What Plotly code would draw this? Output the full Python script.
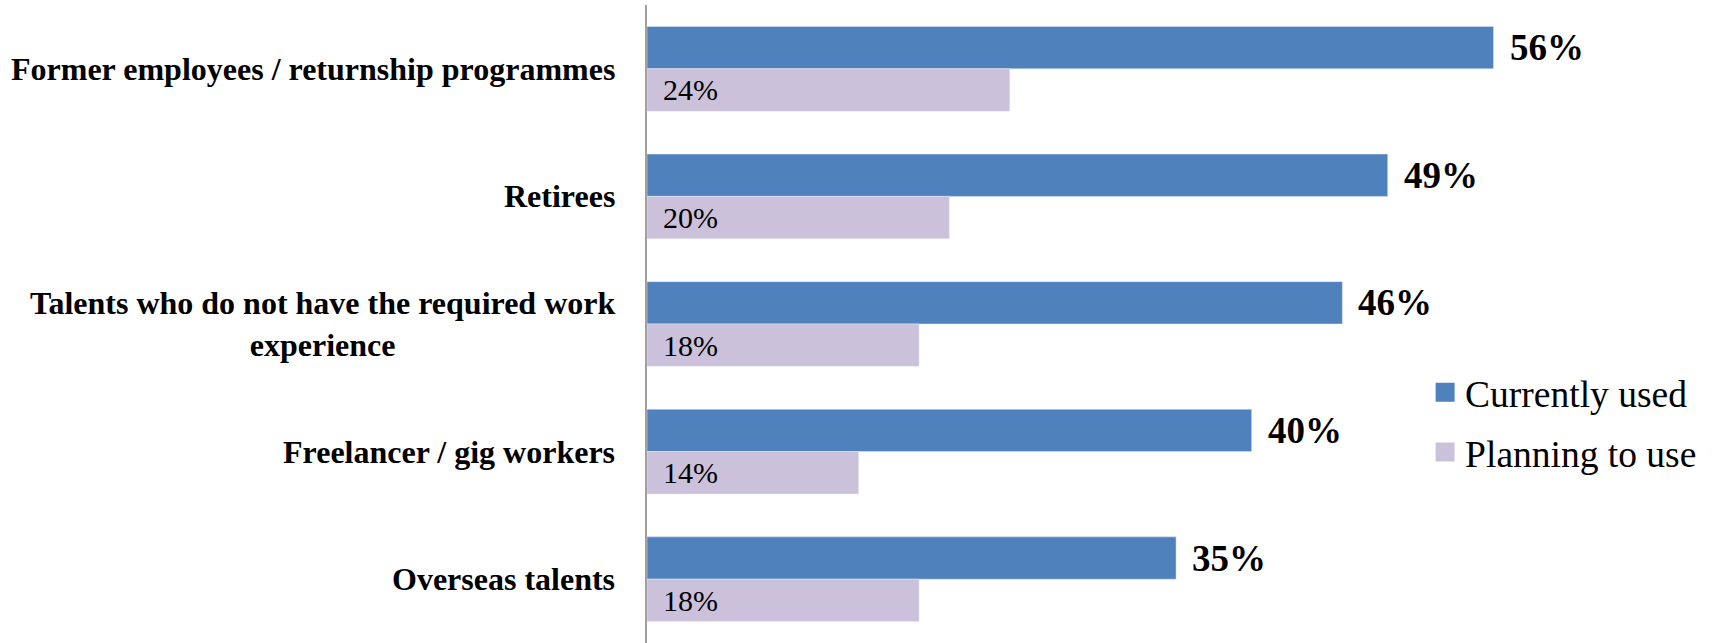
import plotly.graph_objects as go

# Survey results: talent pools currently used vs. planned
categories = [
    "Former employees / returnship programmes",
    "Retirees",
    "Talents who do not have the required work<br>experience",
    "Freelancer / gig workers",
    "Overseas talents",
]
currently_used = [56, 49, 46, 40, 35]
planning_to_use = [24, 20, 18, 14, 18]
series_names = ["Currently used", "Planning to use"]

BLUE = "#4F81BD"
LILAC = "#CCC1DA"
SERIF = "Liberation Serif, Times New Roman, serif"
BARGAP = 0.336

fig = go.Figure()
for name, values, color, grp in zip(series_names, [currently_used, planning_to_use],
                                    [BLUE, LILAC], ["a", "b"]):
    fig.add_trace(go.Bar(
        name=name, y=categories, x=values, orientation="h",
        marker=dict(color=color), legendgroup=grp, showlegend=False,
    ))
    # legend entry with a larger square swatch
    fig.add_trace(go.Scatter(
        name=name, x=[None], y=[None], mode="markers", legendgroup=grp,
        marker=dict(symbol="square", size=16, color=color,
                    line=dict(color=color, width=3)),
        hoverinfo="skip",
    ))

# half of one bar's thickness, in category units
half = (1 - BARGAP) / 4

annotations = []
for i, (cat, cu, pu) in enumerate(zip(categories, currently_used, planning_to_use)):
    # category label, centred block to the left of the axis
    annotations.append(dict(
        x=0, xref="paper", y=i, yref="y", text=f"<b>{cat}</b>",
        xanchor="right", yanchor="middle", align="center", xshift=-30,
        showarrow=False, font=dict(family=SERIF, size=32, color="black"),
    ))
    # value of the "currently used" bar, just past its end
    annotations.append(dict(
        x=cu, xref="x", y=i - half, yref="y", text=f"<b>{cu}%</b>",
        xanchor="left", yanchor="middle", xshift=14,
        showarrow=False, font=dict(family=SERIF, size=37, color="black"),
    ))
    # value of the "planning to use" bar, inside at its start
    annotations.append(dict(
        x=0, xref="x", y=i + half, yref="y", text=f"{pu}%",
        xanchor="left", yanchor="middle", xshift=14,
        showarrow=False, font=dict(family=SERIF, size=30, color="black"),
    ))

fig.update_layout(
    width=1717, height=643,
    margin=dict(l=647, r=163, t=5, b=0, autoexpand=False),
    paper_bgcolor="white", plot_bgcolor="white",
    barmode="group", bargap=BARGAP, bargroupgap=0,
    annotations=annotations,
    legend=dict(
        xref="container", yref="container", x=0.830, y=0.343,
        xanchor="left", yanchor="middle",
        font=dict(family=SERIF, size=37.5, color="black"),
        tracegroupgap=8, bgcolor="rgba(0,0,0,0)", itemsizing="trace",
    ),
    xaxis=dict(range=[0, 60], showticklabels=False, showgrid=False,
               zeroline=False, showline=False),
    yaxis=dict(autorange="reversed", showticklabels=False, showgrid=False,
               zeroline=False, showline=True, linecolor="#a0a0a0",
               linewidth=2, ticks=""),
)

fig.write_html("out.html")
